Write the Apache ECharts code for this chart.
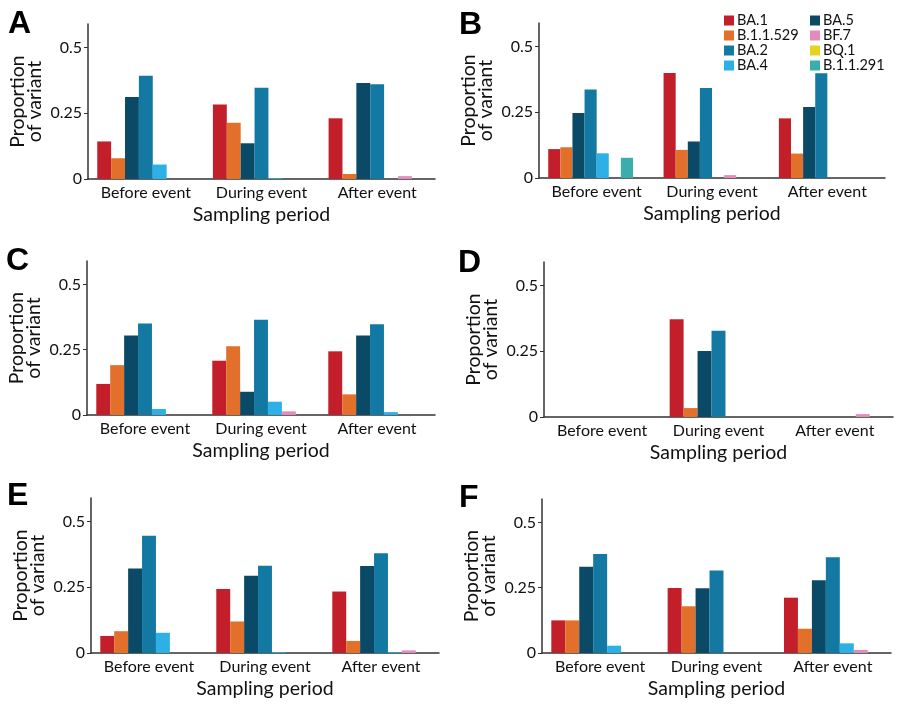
<!DOCTYPE html>
<html>
<head>
<meta charset="utf-8">
<script src="https://cdn.jsdelivr.net/npm/echarts@6/dist/echarts.min.js"></script>
<style>
  html, body { margin: 0; padding: 0; background: #fff; }
  #chart { width: 900px; height: 704px; }
</style>
</head>
<body>
<div id="chart"></div>
<script>
var periods = ['Before event', 'During event', 'After event'];
// order of the bars inside each group
var barOrder = ['BA.1', 'B.1.1.529', 'BA.5', 'BA.2', 'BA.4', 'BF.7', 'B.1.1.291', 'BQ.1'];
var legendCol1 = ['BA.1', 'B.1.1.529', 'BA.2', 'BA.4'];
var legendCol2 = ['BA.5', 'BF.7', 'BQ.1', 'B.1.1.291'];
var yTicks = [0, 0.25, 0.5];

var colors = {
    'BA.1': '#c21f2b',
    'B.1.1.529': '#e2702a',
    'BA.2': '#1379a3',
    'BA.4': '#2cb0e6',
    'BA.5': '#0b4a66',
    'BF.7': '#e48bbd',
    'BQ.1': '#e6d31f',
    'B.1.1.291': '#3aaeaa'
};

// one row per variant (barOrder), one value per period
var panelA = [
    [0.143, 0.284, 0.231],
    [0.079, 0.214, 0.019],
    [0.312, 0.136, 0.365],
    [0.393, 0.347, 0.361],
    [0.055, 0.003, 0],
    [0, 0, 0.011],
    [0, 0, 0]
];
var panelB = [
    [0.110, 0.400, 0.227],
    [0.117, 0.107, 0.093],
    [0.247, 0.139, 0.270],
    [0.337, 0.343, 0.399],
    [0.094, 0, 0],
    [0, 0.011, 0],
    [0.077, 0, 0],
    [0, 0, 0]
];
var panelC = [
    [0.119, 0.208, 0.244],
    [0.191, 0.263, 0.079],
    [0.305, 0.089, 0.305],
    [0.351, 0.365, 0.348],
    [0.023, 0.051, 0.011],
    [0, 0.014, 0],
    [0, 0, 0]
];
var panelD = [
    [0, 0.372, 0],
    [0, 0.034, 0],
    [0, 0.251, 0],
    [0, 0.328, 0],
    [0, 0, 0],
    [0, 0, 0.011],
    [0, 0, 0]
];
var panelE = [
    [0.065, 0.244, 0.234],
    [0.083, 0.120, 0.046],
    [0.322, 0.294, 0.331],
    [0.446, 0.332, 0.380],
    [0.077, 0.003, 0.003],
    [0, 0, 0.010],
    [0, 0, 0]
];
var panelF = [
    [0.125, 0.249, 0.212],
    [0.125, 0.179, 0.093],
    [0.330, 0.248, 0.279],
    [0.379, 0.316, 0.367],
    [0.028, 0, 0.037],
    [0, 0, 0.012],
    [0, 0, 0]
];

var panels = [
    { letter: 'A', data: panelA, grid: { left: 88, top: 24, width: 347, height: 155 }, lx: 8, ly: 8 },
    { letter: 'B', data: panelB, grid: { left: 539, top: 23, width: 346, height: 155 }, lx: 459, ly: 9 },
    { letter: 'C', data: panelC, grid: { left: 87, top: 261, width: 348, height: 154 }, lx: 6, ly: 245 },
    { letter: 'D', data: panelD, grid: { left: 544, top: 262, width: 349, height: 155 }, lx: 458, ly: 247 },
    { letter: 'E', data: panelE, grid: { left: 91, top: 498, width: 348, height: 155 }, lx: 7, ly: 480 },
    { letter: 'F', data: panelF, grid: { left: 542, top: 499, width: 349, height: 154 }, lx: 459, ly: 482 }
];

var fontName = 'Lato';
var axisColor = '#333';

var grids = [], xAxes = [], yAxes = [], series = [], graphics = [];

panels.forEach(function (p, i) {
    grids.push(p.grid);

    xAxes.push({
        type: 'category',
        gridIndex: i,
        data: periods,
        name: 'Sampling period',
        nameLocation: 'middle',
        nameGap: 26,
        nameTextStyle: { fontFamily: fontName, fontSize: 19.5, color: '#111' },
        axisLine: { lineStyle: { color: axisColor, width: 1.5 } },
        axisTick: { show: false },
        axisLabel: { fontFamily: fontName, fontSize: 16, color: '#111', margin: 6, interval: 0, hideOverlap: false }
    });

    yAxes.push({
        type: 'value',
        gridIndex: i,
        min: 0,
        max: 0.59,
        name: 'Proportion\nof variant',
        nameLocation: 'middle',
        nameGap: 45,
        nameTextStyle: { fontFamily: fontName, fontSize: 19.5, color: '#111', lineHeight: 17 },
        splitLine: { show: false },
        axisLine: { show: true, lineStyle: { color: axisColor, width: 1.5 } },
        axisTick: { show: true, length: 4, customValues: yTicks, lineStyle: { color: axisColor } },
        axisLabel: { fontFamily: fontName, fontSize: 16, color: '#111', margin: 6, customValues: yTicks }
    });

    p.data.forEach(function (values, k) {
        var name = barOrder[k];
        series.push({
            type: 'bar',
            name: name,
            xAxisIndex: i,
            yAxisIndex: i,
            data: values,
            barGap: '0%',
            barCategoryGap: '16%',
            itemStyle: { color: colors[name] },
            emphasis: { disabled: true }
        });
    });

    graphics.push({
        type: 'text',
        left: p.lx,
        top: p.ly,
        style: { text: p.letter, fontFamily: 'Liberation Sans', fontWeight: 'bold', fontSize: 32, fill: '#000' }
    });
});

var legendBase = {
    orient: 'vertical',
    top: 8,
    itemWidth: 10,
    itemHeight: 10,
    itemGap: 0,
    icon: 'rect',
    selectedMode: false,
    textStyle: { fontFamily: fontName, fontSize: 14.5, color: '#111', lineHeight: 14.5, padding: [0, 0, 0, -2] }
};

var myChart = echarts.init(document.getElementById('chart'), null, { renderer: 'canvas' });
myChart.setOption({
    animation: false,
    grid: grids,
    xAxis: xAxes,
    yAxis: yAxes,
    legend: [
        Object.assign({}, legendBase, { left: 719, data: legendCol1 }),
        Object.assign({}, legendBase, { left: 805, data: legendCol2 })
    ],
    graphic: graphics,
    series: series
});
</script>
</body>
</html>
